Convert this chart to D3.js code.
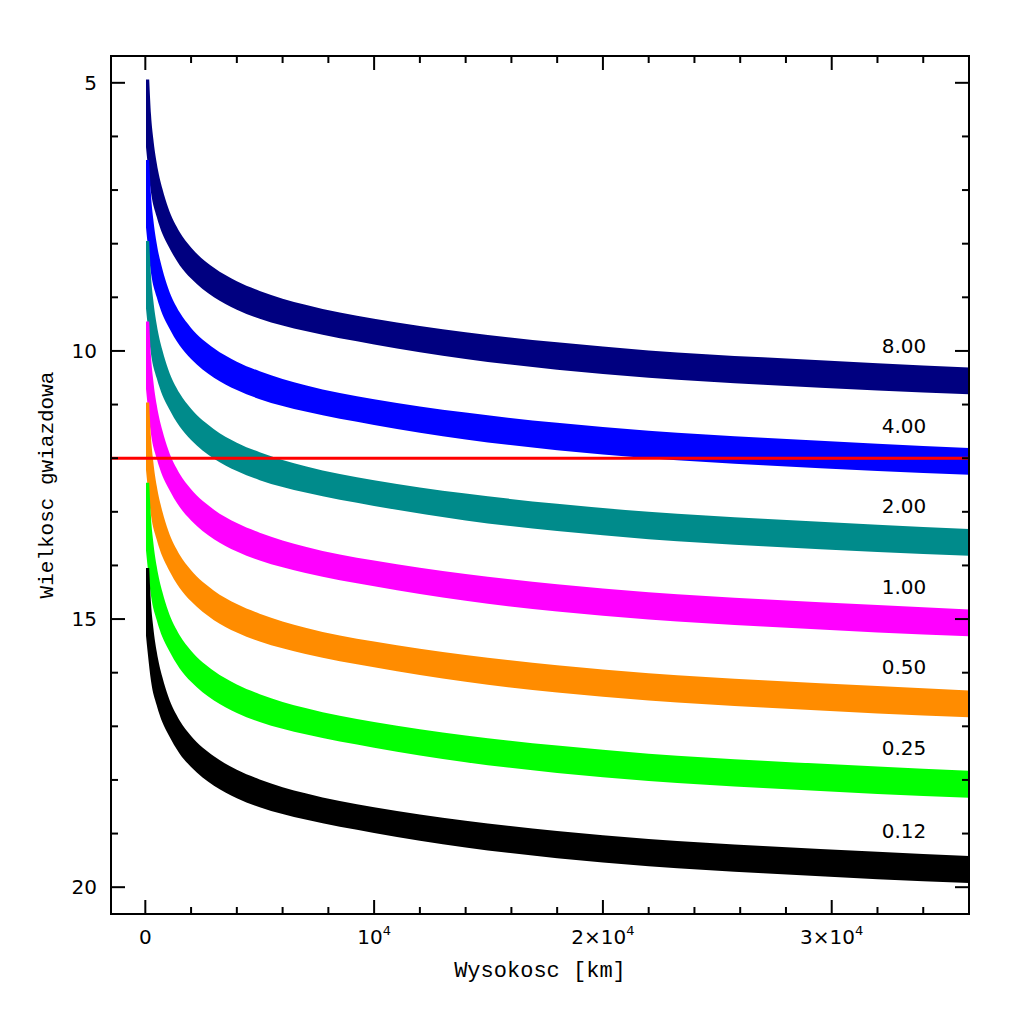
<!DOCTYPE html>
<html>
<head>
<meta charset="utf-8">
<script src="https://cdn.jsdelivr.net/npm/d3@7"></script>
<style>
html,body{margin:0;padding:0;background:#fff;}
svg{display:block;}
</style>
</head>
<body>
<svg id="chart" width="1024" height="1024"></svg>
<script>
// ---------------- data ----------------
const sizeLabels = ["8.00", "4.00", "2.00", "1.00", "0.50", "0.25", "0.12"];
const bandColors = ["#000080", "#0000ff", "#008b8b", "#ff00ff", "#ff8c00", "#00ff00", "#000000"];

// altitude samples (km) of the upper (bright) and lower (faint) edges of every band
const altUpper = [170, 250, 350, 500, 750, 1000, 1500, 2000, 3000, 4000, 5000, 7000, 10000, 14000, 18000, 22000, 27000, 32000, 36000];
const altLower = [30, 100, 250, 500, 750, 1000, 1500, 2000, 3000, 4000, 5000, 7000, 10000, 14000, 18000, 22000, 27000, 32000, 36000];

const upper800 = [4.94, 5.60, 6.05, 6.50, 6.98, 7.33, 7.78, 8.07, 8.45, 8.70, 8.88, 9.14, 9.40, 9.65, 9.84, 9.99, 10.12, 10.23, 10.31];
const lower800 = [6.20, 6.50, 7.05, 7.50, 7.82, 8.04, 8.40, 8.65, 9.00, 9.23, 9.40, 9.63, 9.88, 10.15, 10.35, 10.50, 10.63, 10.74, 10.81];
const upper400 = [6.44, 7.10, 7.55, 8.00, 8.48, 8.83, 9.28, 9.57, 9.95, 10.20, 10.38, 10.64, 10.90, 11.15, 11.34, 11.49, 11.62, 11.73, 11.81];
const lower400 = [7.70, 8.00, 8.55, 9.00, 9.32, 9.54, 9.90, 10.15, 10.50, 10.73, 10.90, 11.13, 11.38, 11.65, 11.85, 12.00, 12.13, 12.24, 12.31];
const upper200 = [7.95, 8.61, 9.06, 9.51, 9.99, 10.34, 10.79, 11.08, 11.46, 11.71, 11.89, 12.15, 12.41, 12.66, 12.85, 13.00, 13.13, 13.24, 13.32];
const lower200 = [9.21, 9.51, 10.06, 10.51, 10.83, 11.05, 11.41, 11.66, 12.01, 12.24, 12.41, 12.64, 12.89, 13.16, 13.36, 13.51, 13.64, 13.75, 13.82];
const upper100 = [9.45, 10.11, 10.56, 11.01, 11.49, 11.84, 12.29, 12.58, 12.96, 13.21, 13.39, 13.65, 13.91, 14.16, 14.35, 14.50, 14.63, 14.74, 14.82];
const lower100 = [10.71, 11.01, 11.56, 12.01, 12.33, 12.55, 12.91, 13.16, 13.51, 13.74, 13.91, 14.14, 14.39, 14.66, 14.86, 15.01, 15.14, 15.25, 15.32];
const upper050 = [10.96, 11.62, 12.07, 12.52, 13.00, 13.35, 13.80, 14.09, 14.47, 14.72, 14.90, 15.16, 15.42, 15.67, 15.86, 16.01, 16.14, 16.25, 16.33];
const lower050 = [12.22, 12.52, 13.07, 13.52, 13.84, 14.06, 14.42, 14.67, 15.02, 15.25, 15.42, 15.65, 15.90, 16.17, 16.37, 16.52, 16.65, 16.76, 16.83];
const upper025 = [12.46, 13.12, 13.57, 14.02, 14.50, 14.85, 15.30, 15.59, 15.97, 16.22, 16.40, 16.66, 16.92, 17.17, 17.36, 17.51, 17.64, 17.75, 17.83];
const lower025 = [13.72, 14.02, 14.57, 15.02, 15.34, 15.56, 15.92, 16.17, 16.52, 16.75, 16.92, 17.15, 17.40, 17.67, 17.87, 18.02, 18.15, 18.26, 18.33];
const upper012 = [14.05, 14.71, 15.16, 15.61, 16.09, 16.44, 16.89, 17.18, 17.56, 17.81, 17.99, 18.25, 18.51, 18.76, 18.95, 19.10, 19.23, 19.34, 19.42];
const lower012 = [15.31, 15.61, 16.16, 16.61, 16.93, 17.15, 17.51, 17.76, 18.11, 18.34, 18.51, 18.74, 18.99, 19.26, 19.46, 19.61, 19.74, 19.85, 19.92];

const upperEdges = [upper800, upper400, upper200, upper100, upper050, upper025, upper012];
const lowerEdges = [lower800, lower400, lower200, lower100, lower050, lower025, lower012];

const labelMag = [9.90, 11.40, 12.90, 14.40, 15.90, 17.40, 18.95];
const labelAlt = 34000;

const limitMag = 12.0;

const yTickMajor = [5, 10, 15, 20];
const yTickMinor = [5, 6, 7, 8, 9, 10, 11, 12, 13, 14, 15, 16, 17, 18, 19, 20];
const xTickMajor = [0, 10000, 20000, 30000];
const xTickMinor = [0, 2000, 4000, 6000, 8000, 10000, 12000, 14000, 16000, 18000, 20000, 22000, 24000, 26000, 28000, 30000, 32000, 34000];
const xTickMant = ["0", "", "2×", "3×"];

const xTitle = "Wysokosc [km]";
const yTitle = "Wielkosc gwiazdowa";

// ---------------- layout ----------------
const L = 111, R = 969, T = 56, B = 914;
const svg = d3.select("#chart");

const x = d3.scaleLinear().domain([-1500, 36000]).range([L, R]);
const y = d3.scaleLinear().domain([4.5, 20.5]).range([T, B]);

svg.append("clipPath").attr("id", "plotclip")
  .append("rect").attr("x", L).attr("y", T).attr("width", R - L).attr("height", B - T);

const plot = svg.append("g").attr("clip-path", "url(#plotclip)");

const edgeLine = d3.line().x(d => x(d[0])).y(d => y(d[1])).curve(d3.curveMonotoneX);

upperEdges.forEach((up, i) => {
  const lo = lowerEdges[i];
  const upPts = altUpper.map((h, k) => [h, up[k]]);
  const loPts = altLower.map((h, k) => [h, lo[k]]).reverse();
  const topMag = up[0];
  let p = edgeLine(upPts);
  p += edgeLine(loPts).replace(/^M/, "L");
  p += "L" + x(altLower[0]) + "," + y(topMag) + "Z";
  plot.append("path").attr("d", p).attr("fill", bandColors[i]).attr("stroke", "none");
});

// limiting magnitude line
plot.append("line")
  .attr("x1", L).attr("x2", R)
  .attr("y1", y(limitMag)).attr("y2", y(limitMag))
  .attr("stroke", "#ff0000").attr("stroke-width", 3);

// size labels
svg.append("g").selectAll("text").data(sizeLabels).join("text")
  .attr("x", x(labelAlt) + 3)
  .attr("y", (d, i) => y(labelMag[i]))
  .attr("text-anchor", "end")
  .attr("dominant-baseline", "central")
  .attr("font-family", "DejaVu Sans, sans-serif")
  .attr("font-size", 20)
  .attr("fill", "#000")
  .text(d => d);

// ---------------- frame & ticks ----------------
const axes = svg.append("g").attr("stroke", "#000").attr("stroke-width", 2);
const majLen = 14, minLen = 7;

yTickMinor.forEach(v => {
  const len = yTickMajor.includes(v) ? majLen : minLen;
  axes.append("line").attr("x1", L).attr("x2", L + len).attr("y1", y(v)).attr("y2", y(v));
  axes.append("line").attr("x1", R).attr("x2", R - len).attr("y1", y(v)).attr("y2", y(v));
});
xTickMinor.forEach(v => {
  const len = xTickMajor.includes(v) ? majLen : minLen;
  axes.append("line").attr("x1", x(v)).attr("x2", x(v)).attr("y1", B).attr("y2", B - len);
  axes.append("line").attr("x1", x(v)).attr("x2", x(v)).attr("y1", T).attr("y2", T + len);
});
axes.append("rect").attr("x", L).attr("y", T).attr("width", R - L).attr("height", B - T)
  .attr("fill", "none");

// y tick labels
svg.append("g").selectAll("text").data(yTickMajor).join("text")
  .attr("x", L - 14)
  .attr("y", d => y(d))
  .attr("text-anchor", "end")
  .attr("dominant-baseline", "central")
  .attr("font-family", "DejaVu Sans, sans-serif")
  .attr("font-size", 20)
  .text(d => d);

// x tick labels
const xl = svg.append("g").attr("font-family", "DejaVu Sans, sans-serif").attr("font-size", 20);
xTickMajor.forEach((v, i) => {
  const t = xl.append("text").attr("x", x(v)).attr("y", 944).attr("text-anchor", "middle");
  if (v === 0) { t.text("0"); return; }
  t.append("tspan").text(xTickMant[i] + "10");
  t.append("tspan").attr("font-size", 13).attr("dy", -9).text("4");
});

// axis titles
svg.append("text")
  .attr("x", (L + R) / 2).attr("y", 977)
  .attr("text-anchor", "middle")
  .attr("font-family", "Liberation Mono, monospace")
  .attr("font-size", 22)
  .text(xTitle);

svg.append("text")
  .attr("transform", `translate(47,${(T + B) / 2}) rotate(-90)`)
  .attr("text-anchor", "middle")
  .attr("dominant-baseline", "central")
  .attr("font-family", "Liberation Mono, monospace")
  .attr("font-size", 21)
  .text(yTitle);
</script>
</body>
</html>
